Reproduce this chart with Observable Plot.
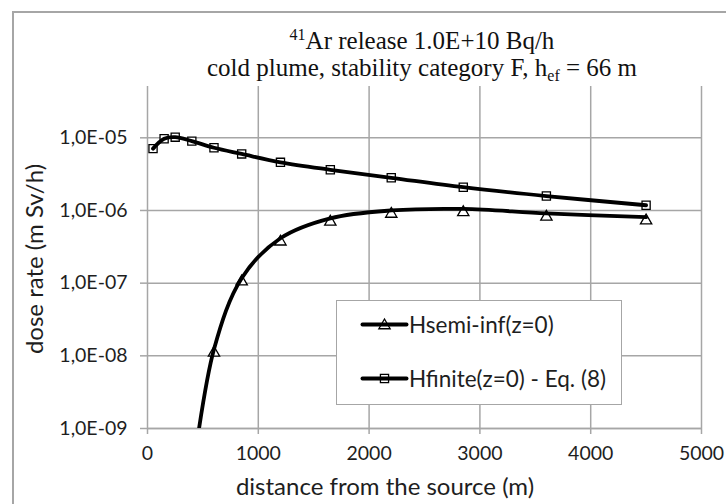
<!DOCTYPE html>
<html>
<head>
<meta charset="utf-8">
<script src="https://cdn.jsdelivr.net/npm/d3@7"></script>
<script src="https://cdn.jsdelivr.net/npm/@observablehq/plot@0.6"></script>
<style>
  html, body { margin: 0; padding: 0; background: #fff; overflow: hidden; }
  #wrap { position: relative; width: 726px; height: 504px; overflow: hidden; font-family: Lato, "Open Sans", sans-serif; color: #1e1e1e; }
  #border { position: absolute; left: 12px; top: 11px; width: 800px; height: 600px; border: 2px solid #a6a6a6; box-sizing: border-box; pointer-events: none; }
  #chart { position: absolute; left: 0; top: 0; }
  .title { position: absolute; left: 0; width: 844px; text-align: center; font-family: "Liberation Serif", "Times New Roman", serif; font-size: 25px; line-height: 28px; color: #111; white-space: nowrap; }
  .title sup { font-size: 16px; vertical-align: 9px; line-height: 0; }
  .title sub { font-size: 16px; vertical-align: -5px; line-height: 0; }
  #xtitle { position: absolute; left: 0; width: 770px; text-align: center; top: 471px; font-size: 24px; line-height: 30px; white-space: nowrap; }
  #ytitle { position: absolute; left: 34px; top: 259px; transform: translate(-50%, -50%) rotate(-90deg); font-size: 24px; line-height: 30px; white-space: nowrap; }
  #legend { position: absolute; left: 336px; top: 300px; width: 286px; height: 105px; border: 1px solid #a6a6a6; background: #fff; box-sizing: border-box; }
  .lrow { position: absolute; left: 0; height: 24px; display: flex; align-items: center; }
  .lrow span { font-size: 22.5px; white-space: nowrap; margin-left: 1px; }
</style>
</head>
<body>
<div id="wrap">
  <div id="chart"></div>
  <div class="title" style="top:27px"><sup>41</sup>Ar release 1.0E+10 Bq/h</div>
  <div class="title" style="top:54px">cold plume, stability category F, h<sub>ef</sub> = 66 m</div>
  <div id="xtitle">distance from the source (m)</div>
  <div id="ytitle">dose rate (m Sv/h)</div>
  <div id="legend"></div>
  <div id="border"></div>
</div>
<script>
// ---- data ----
const distance = [50, 150, 250, 400, 600, 850, 1200, 1650, 2200, 2850, 3600, 4500];
const hFinite  = [7.1e-6, 9.7e-6, 1.02e-5, 9.0e-6, 7.3e-6, 6.0e-6, 4.6e-6, 3.63e-6, 2.82e-6, 2.09e-6, 1.58e-6, 1.18e-6];
const hSemiInf = [null, null, null, 2e-10, 1.23e-8, 1.17e-7, 4.15e-7, 7.8e-7, 1.0e-6, 1.05e-6, 9.1e-7, 8.1e-7];
const seriesNames = ["Hsemi-inf(z=0)", "Hfinite(z=0) - Eq. (8)"];
const xTicks = [0, 1000, 2000, 3000, 4000, 5000];
const yTicks = [1e-9, 1e-8, 1e-7, 1e-6, 1e-5];
const yTickLabels = ["1,0E-09", "1,0E-08", "1,0E-07", "1,0E-06", "1,0E-05"];

const finite = distance.map((d, i) => ({x: d, y: hFinite[i]}));
const semi = distance.map((d, i) => ({x: d, y: hSemiInf[i]})).filter(d => d.y != null);
const semiShown = semi.filter(d => d.y >= 1e-9);

const gridColor = "#a6a6a6";
const textColor = "#1e1e1e";

const chart = Plot.plot({
  width: 726,
  height: 504,
  marginLeft: 147,
  marginRight: 25,
  marginTop: 86,
  marginBottom: 76,
  style: {fontFamily: "Lato, 'Open Sans', sans-serif", fontSize: "19.5px", color: textColor, background: "transparent", overflow: "visible"},
  x: {domain: [0, 5000]},
  y: {type: "log", domain: [1e-9, Math.pow(10, -4.294)]},
  marks: [
    Plot.gridX(xTicks.filter(t => t > 0), {stroke: gridColor, strokeOpacity: 1, strokeWidth: 1.5}),
    Plot.gridY(yTicks, {stroke: gridColor, strokeOpacity: 1, strokeWidth: 1.5}),
    Plot.ruleX([0], {stroke: gridColor, strokeWidth: 1.5}),
    Plot.ruleY([1e-9], {stroke: gridColor, strokeWidth: 1.5}),
    Plot.axisX(xTicks, {tickSize: 6, tickPadding: 12, stroke: gridColor, strokeWidth: 1.5, fill: textColor, label: null, tickFormat: d => String(d)}),
    Plot.axisY(yTicks, {tickSize: 7, tickPadding: 13, stroke: gridColor, strokeWidth: 1.5, fill: textColor, label: null, tickFormat: d => yTickLabels[yTicks.indexOf(d)]}),
    Plot.dot(semiShown, {x: "x", y: "y", symbol: "triangle", r: 4.2, dy: 3.5, stroke: "black", strokeWidth: 1.3, fill: "white"}),
    Plot.dot(finite, {x: "x", y: "y", symbol: "square", r: 4.6, stroke: "black", strokeWidth: 1.3, fill: "white"}),
    Plot.line(semi, {x: "x", y: "y", curve: "catmull-rom", stroke: "black", strokeWidth: 3.8, clip: true}),
    Plot.line(finite, {x: "x", y: "y", curve: "catmull-rom", stroke: "black", strokeWidth: 3.8, clip: true})
  ]
});
document.getElementById("chart").appendChild(chart);

// legend
const legend = document.getElementById("legend");
const symbols = ["triangle", "square"];
const rowTops = [11, 65];
seriesNames.forEach((name, i) => {
  const row = document.createElement("div");
  row.className = "lrow";
  row.style.top = rowTops[i] + "px";
  row.style.left = "23px";
  const sw = Plot.plot({
    width: 48, height: 24, margin: 0,
    x: {domain: [0, 1], axis: null}, y: {domain: [0, 1], axis: null},
    style: {background: "transparent", overflow: "visible"},
    marks: [
      Plot.dot([{x: 0.5, y: 0.5}], {x: "x", y: "y", symbol: symbols[i], r: symbols[i] === "triangle" ? 4.2 : 4.6, dy: symbols[i] === "triangle" ? 1 : 0, stroke: "black", strokeWidth: 1.3, fill: "white"}),
      Plot.line([{x: 0.04, y: 0.5}, {x: 0.96, y: 0.5}], {x: "x", y: "y", stroke: "black", strokeWidth: 3.8})
    ]
  });
  row.appendChild(sw);
  const t = document.createElement("span");
  t.textContent = name;
  row.appendChild(t);
  legend.appendChild(row);
});
</script>
</body>
</html>
